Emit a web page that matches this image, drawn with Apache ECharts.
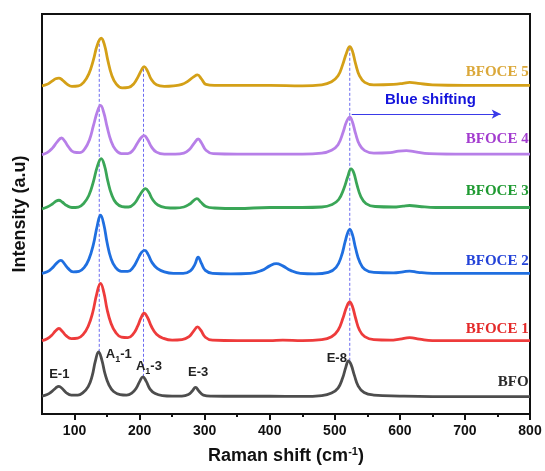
<!DOCTYPE html>
<html>
<head>
<meta charset="utf-8">
<script src="https://cdn.jsdelivr.net/npm/echarts@6/dist/echarts.min.js"></script>
<style>
  html, body { margin: 0; padding: 0; background: #fff; }
  #chart { width: 545px; height: 471px; }
</style>
</head>
<body>
<div id="chart"></div>
<script>
// Raman spectra of BFO and Ce-doped BFOCE samples, stacked with vertical offsets.
// Each spectrum is a list of [Raman shift (cm-1), intensity (a.u., offset)] pairs.

const xTicks = [100, 200, 300, 400, 500, 600, 700, 800];
const xMinorTicks = [150, 250, 350, 450, 550, 650, 750];

const sampleNames = ['BFO', 'BFOCE 1', 'BFOCE 2', 'BFOCE 3', 'BFOCE 4', 'BFOCE 5'];

const bfo = [
  [50, 18.0], [58, 19.5], [65, 22.5], [71, 26.0], [76, 27.7], [81, 25.5], [87, 21.5], [95, 19.0],
  [105, 19.0], [113, 21.5], [121, 27.5], [127, 38.0], [132, 53.0], [137, 62.3], [142, 54.0],
  [147, 40.0], [153, 29.0], [160, 22.5], [170, 19.5], [180, 19.0], [188, 21.0], [195, 26.0],
  [200, 32.5], [205, 37.3], [210, 33.0], [216, 25.0], [224, 20.5], [235, 18.5], [250, 18.0],
  [265, 18.0], [275, 19.5], [281, 23.0], [286, 26.7], [291, 23.0], [298, 19.0], [310, 18.0],
  [350, 17.8], [400, 17.8], [450, 17.6], [480, 18.5], [495, 21.0], [505, 26.0], [512, 36.0],
  [517, 47.0], [521, 53.3], [525, 49.5], [530, 39.0], [536, 28.0], [545, 21.5], [560, 19.0],
  [600, 18.0], [650, 17.5], [700, 17.5], [750, 17.5], [800, 17.5]
];

const bfoce1 = [
  [50, 73.5], [58, 75.5], [65, 79], [71, 83.5], [76, 85.7], [81, 83], [87, 78.5], [95, 75.5],
  [105, 76], [113, 79.5], [121, 88], [128, 102], [134, 120], [140, 131], [145, 122], [150, 105],
  [156, 91], [163, 82], [172, 77], [182, 76.5], [190, 80], [197, 88], [202, 96], [207, 101],
  [212, 97], [218, 88], [226, 80], [236, 76], [250, 74], [265, 74.5], [276, 77.5], [283, 83],
  [289, 87.3], [294, 84], [301, 77], [312, 74], [350, 73.5], [400, 73.5], [420, 74], [450, 73.5],
  [480, 74.5], [495, 77.5], [505, 84], [513, 97], [518, 107], [523, 112.3], [527, 108], [532, 96],
  [538, 84], [546, 77.5], [560, 74.5], [585, 74], [600, 75], [615, 76.5], [630, 75], [650, 73.5],
  [700, 73.5], [750, 73.5], [800, 73.5]
];

const bfoce2 = [
  [50, 141], [58, 142.5], [66, 146.5], [73, 151.5], [79, 154], [84, 151], [90, 146], [98, 142.5],
  [107, 143], [115, 147], [122, 155], [129, 170], [135, 189], [140, 199.3], [145, 190], [150, 172],
  [156, 156], [163, 147], [172, 143], [182, 143], [190, 147], [197, 155], [203, 162], [208, 164],
  [213, 160], [219, 152], [227, 146], [238, 142.5], [252, 141], [267, 141], [278, 143.5], [285, 150],
  [290, 157.3], [295, 151], [301, 144], [312, 141], [340, 140.5], [370, 141], [388, 144], [400, 148.5],
  [410, 150.7], [420, 148.5], [432, 144], [447, 141], [470, 140.5], [490, 142], [502, 147], [510, 158],
  [516, 173], [520, 182], [523, 185], [527, 180], [532, 166], [538, 153], [546, 145], [560, 142],
  [590, 141.5], [605, 142.5], [615, 143.3], [628, 142], [650, 141], [700, 141], [750, 141], [800, 141]
];

const bfoce3 = [
  [50, 205.7], [58, 207.5], [66, 210.5], [72, 213.5], [76, 214.3], [81, 212.5], [88, 209], [96, 207],
  [106, 207.5], [114, 211], [122, 219], [129, 233], [135, 248], [141, 256], [146, 249], [151, 234],
  [157, 220], [164, 211.5], [173, 208], [183, 207.5], [192, 211], [199, 218], [205, 224], [209, 226],
  [214, 222.5], [220, 215], [228, 209.5], [240, 207], [255, 206.5], [268, 207.5], [277, 210.5],
  [283, 214], [288, 216], [294, 212.5], [302, 208], [315, 206.5], [350, 206], [400, 207], [450, 207],
  [480, 207.5], [496, 210], [506, 215], [514, 226], [520, 238], [525, 245.7], [529, 242], [534, 230],
  [540, 218], [548, 211], [562, 208], [590, 207.5], [605, 208.5], [615, 209], [630, 208], [655, 207],
  [700, 207], [750, 207], [800, 207]
];

const bfoce4 = [
  [50, 260], [58, 262], [66, 266.5], [73, 272.5], [80, 276.7], [85, 273.5], [91, 267.5], [99, 262.5],
  [108, 262], [116, 266], [123, 275], [129, 289], [135, 303], [140, 309.3], [145, 302], [150, 288],
  [156, 274], [163, 265], [172, 261], [182, 261], [190, 264.5], [197, 272], [203, 277.5], [207, 279],
  [212, 275.5], [218, 268], [226, 262.5], [238, 260.5], [255, 260.5], [268, 261.5], [277, 265.5],
  [284, 271.5], [290, 275.7], [295, 272], [302, 264.5], [313, 261], [350, 260.5], [400, 260.5],
  [450, 260.5], [480, 261.5], [495, 264.5], [505, 270], [513, 283], [518, 293], [523, 297.7],
  [527, 293], [532, 281], [538, 270], [546, 264], [560, 261.5], [585, 262], [598, 263.5], [610, 264],
  [622, 263], [645, 261], [700, 260.5], [750, 260.5], [800, 260.5]
];

const bfoce5 = [
  [50, 329], [58, 330.5], [65, 333.5], [71, 336], [76, 336.7], [81, 335], [88, 331], [96, 328.5],
  [106, 329], [114, 332.5], [122, 341], [129, 355], [135, 370], [141, 376.7], [146, 370], [151, 355],
  [157, 340], [164, 331], [173, 327], [183, 327.5], [191, 331], [198, 338.5], [203, 345], [207, 348.3],
  [212, 344], [218, 335.5], [226, 330], [238, 328.5], [252, 329], [265, 330.5], [275, 334], [283, 338],
  [289, 340], [295, 336], [302, 330.5], [315, 329.5], [350, 329.5], [400, 329.5], [450, 329],
  [480, 330], [495, 333], [505, 339], [512, 350], [518, 362], [523, 368.3], [527, 364], [532, 351],
  [538, 339], [546, 332.5], [560, 330], [590, 330.5], [605, 331.5], [615, 332.5], [628, 331.5],
  [650, 330], [700, 329.5], [750, 329.5], [800, 329.5]
];

// Mode positions marked by dotted guides, from the BFOCE 5 peak down to the BFO peak
const guideShift = [138, 206, 523];
const guideLow = [62.3, 37.3, 53.3];
const guideHigh = [376.7, 348.3, 368.3];

// Mode assignments of the BFO peaks
const modeNames = ['E-1', 'A{s|1}-1', 'A{s|1}-3', 'E-3', 'E-8'];

// Blue shift of the E-8 mode: arrow from/to (cm-1) at the given intensity level
const shiftFrom = 526;
const shiftTo = 755;
const shiftLevel = 300.7;

const spectra = [bfo, bfoce1, bfoce2, bfoce3, bfoce4, bfoce5];
const lineColors = ['#4d4d4d', '#ee3b3b', '#1f6fe0', '#3aa657', '#b77fe8', '#d4a017'];
const nameColors = ['#2a2a2a', '#e42a2a', '#2443d8', '#1f9a32', '#a33ccf', '#dba83a'];
const nameLevels = [32, 85, 153, 223, 276, 343];

const sans = 'Liberation Sans, Arial, sans-serif';
const serif = 'Liberation Serif, Times New Roman, serif';

const series = [];

// dotted guides
guideShift.forEach((x, i) => {
  series.push({
    type: 'line',
    data: [[x, guideLow[i]], [x, guideHigh[i]]],
    showSymbol: false,
    silent: true,
    z: 1,
    lineStyle: { color: '#6a6af0', width: 1, type: [3, 2] }
  });
});

spectra.forEach((data, i) => {
  series.push({
    name: sampleNames[i],
    type: 'line',
    data: data,
    showSymbol: false,
    smooth: 0.45,
    z: 3,
    lineStyle: { color: lineColors[i], width: 2.8 },
    markPoint: {
      symbol: 'circle',
      symbolSize: 0,
      silent: true,
      data: [{ coord: [798, nameLevels[i]], value: 0 }],
      label: {
        show: true,
        position: 'left',
        distance: 0,
        formatter: sampleNames[i],
        color: nameColors[i],
        fontFamily: serif,
        fontWeight: 'bold',
        fontSize: 15
      }
    }
  });
});

// mode labels for BFO
const modeAnchors = [[76.6, 39.3], [168, 59], [214.3, 47.3], [290, 41], [503, 55]];
const subRich = {
  b: { fontFamily: sans, fontWeight: 'bold', fontSize: 13, color: '#222', lineHeight: 14, verticalAlign: 'top' },
  s: { fontFamily: sans, fontWeight: 'bold', fontSize: 9, color: '#222', lineHeight: 9, padding: [7, 0, 0, 0], verticalAlign: 'top' }
};
series.push({
  type: 'line',
  data: [],
  silent: true,
  z: 4,
  markPoint: {
    symbol: 'circle',
    symbolSize: 0,
    data: modeNames.map((t, i) => ({
      coord: modeAnchors[i],
      value: 0,
      label: {
        show: true,
        position: 'inside',
        formatter: t.split(/(\{s\|1\})/).filter(Boolean).map(p => p.startsWith('{') ? p : '{b|' + p + '}').join(''),
        rich: subRich
      }
    }))
  }
});

// blue shift arrow and caption
series.push({
  type: 'line',
  data: [],
  silent: true,
  z: 4,
  markLine: {
    symbol: ['none', 'arrow'],
    symbolSize: [7, 9],
    silent: true,
    label: { show: false },
    lineStyle: { color: '#3a3ae8', width: 1, type: 'solid' },
    data: [[{ coord: [shiftFrom, shiftLevel] }, { coord: [shiftTo, shiftLevel] }]]
  },
  markPoint: {
    symbol: 'circle',
    symbolSize: 0,
    data: [{ coord: [647, 315], value: 0 }],
    label: {
      show: true,
      position: 'inside',
      formatter: 'Blue shifting',
      color: '#1414dc',
      fontFamily: sans,
      fontWeight: 'bold',
      fontSize: 15
    }
  }
});

const chart = echarts.init(document.getElementById('chart'), null, { renderer: 'canvas' });
chart.setOption({
  animation: false,
  backgroundColor: '#fff',
  grid: {
    left: 42, right: 15, top: 14, bottom: 56,
    show: true, borderColor: '#111', borderWidth: 2, backgroundColor: 'transparent'
  },
  xAxis: [
    {
      type: 'value',
      min: 50, max: 800,
      position: 'bottom',
      name: 'Raman shift (cm{sup|-1})',
      nameLocation: 'middle',
      nameGap: 32,
      nameTextStyle: {
        rich: {
          sup: { fontFamily: sans, fontWeight: 'bold', fontSize: 11, color: '#111', lineHeight: 11, verticalAlign: 'top' }
        },
        fontFamily: sans, fontWeight: 'bold', fontSize: 18, color: '#111', lineHeight: 20, verticalAlign: 'top'
      },
      axisLine: { show: true, lineStyle: { color: '#111', width: 2 } },
      axisTick: { show: true, customValues: xTicks, length: 6, lineStyle: { color: '#111', width: 2 } },
      axisLabel: { customValues: xTicks, fontFamily: sans, fontWeight: 'bold', fontSize: 14, color: '#111', margin: 10 },
      splitLine: { show: false }
    },
    {
      type: 'value',
      min: 50, max: 800,
      position: 'bottom',
      axisLine: { show: false },
      axisTick: { show: true, customValues: xMinorTicks, length: 3, lineStyle: { color: '#111', width: 2 } },
      axisLabel: { show: false },
      splitLine: { show: false }
    }
  ],
  yAxis: {
    type: 'value',
    min: 0, max: 401,
    name: 'Intensity (a.u)',
    nameLocation: 'middle',
    nameGap: 13,
    nameTextStyle: { fontFamily: sans, fontWeight: 'bold', fontSize: 18, color: '#111' },
    axisLine: { show: true, lineStyle: { color: '#111', width: 2 } },
    axisTick: { show: false },
    axisLabel: { show: false },
    splitLine: { show: false }
  },
  series: series
});
</script>
</body>
</html>
